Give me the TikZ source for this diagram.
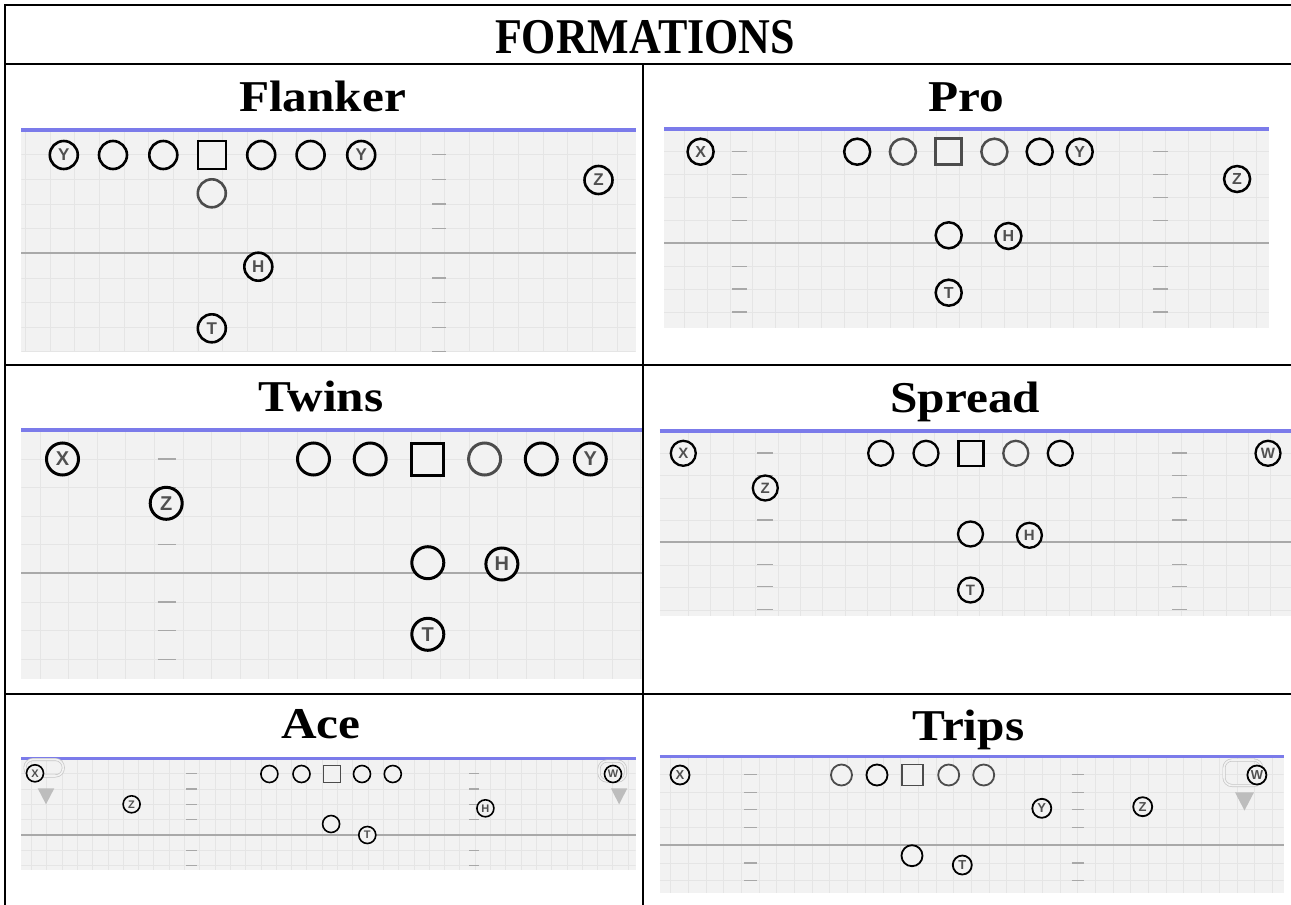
\documentclass[tikz,border=0pt]{standalone}
\usepackage{fontspec}
\setmainfont{Liberation Serif}
\setsansfont{Liberation Sans}
\usepackage{graphicx}
\definecolor{fieldbg}{HTML}{F2F2F2}
\definecolor{gridc}{HTML}{E5E5E5}
\definecolor{losc}{HTML}{A9A9A9}
\definecolor{hashc}{HTML}{A8A8A8}
\definecolor{fieldblue}{HTML}{7B7BEA}
\definecolor{lblgray}{HTML}{505050}
\definecolor{pillc}{HTML}{C6C6C6}
\definecolor{trig}{HTML}{BDBDBD}

\tikzset{
  tbl/.style={line width=2pt, black},
  ttl/.style={font=\bfseries\fontsize{44}{44}\selectfont, anchor=base, inner sep=0pt},
  bigttl/.style={font=\bfseries\fontsize{50}{50}\selectfont, anchor=base, inner sep=0pt},
  gridln/.style={gridc, line width=0.8pt},
  losln/.style={losc, line width=2.2pt},
  blueln/.style={fieldblue, line width=3.8pt},
  hashln/.style={hashc, line width=1.2pt},
  plr/.style={circle, draw=black, fill=fieldbg, inner sep=0pt, text=lblgray},
  ctr/.style={rectangle, draw=black, fill=fieldbg, inner sep=0pt},
  gry/.style={draw=black!70},
  pill/.style={draw=pillc, line width=0.7pt, double=fieldbg, double distance=1.6pt, rounded corners=8pt},
  tri/.style={fill=trig},
  panelsz/.style n args={3}{
    plr/.append style={minimum size=#1, line width=#2, font=\sffamily\bfseries\fontsize{#3}{#3}\selectfont},
    ctr/.append style={minimum size=#1, line width=#2}}
}

% field: x0, y0, x1, y1, grid x, grid y, grid step, scrimmage y
\newcommand{\drawfield}[8]{%
  \fill[fieldbg] (#1,#2) rectangle (#3,#4);
  \begin{scope}
    \clip (#1,#2) rectangle (#3,#4);
    \foreach \k in {0,...,45} {
      \draw[gridln] ({#5+\k*#7},#2) -- ({#5+\k*#7},#4);
      \draw[gridln] (#1,{#6+\k*#7}) -- (#3,{#6+\k*#7});
    }
  \end{scope}
  \draw[losln] (#1,#8) -- (#3,#8);
  \draw[blueln] (#1,#2) -- (#3,#2);
}
% hash column: x left, x right, y0, step, list of rows
\newcommand{\hashcol}[5]{%
  \foreach \k in {#5} \draw[hashln] (#1,{#3+\k*#4}) -- (#2,{#3+\k*#4});
}

\begin{document}
\begin{tikzpicture}[x=1pt, y=-1pt]
  \useasboundingbox (0,0) rectangle (1291,905);
  \fill[white] (0,0) rectangle (1291,905);

  % Flanker
  \drawfield{21.4}{130}{635.5}{351.7}{25.5}{130}{24.65}{253.3}
  \hashcol{432}{446}{130}{24.65}{1,2,3,4,6,7,8,9}
  \begin{scope}[panelsz={28pt}{2.6pt}{17}]
    \node[plr] (fl-y1) at (63.8,155) {Y};
    \node[plr] (fl-lt) at (113,155) {};
    \node[plr] (fl-lg) at (163.3,155) {};
    \node[ctr] (fl-c) at (212,155) {};
    \node[plr] (fl-rg) at (261.2,155) {};
    \node[plr] (fl-rt) at (310.6,155) {};
    \node[plr] (fl-y2) at (361.2,155) {Y};
    \node[plr, gry] (fl-qb) at (211.8,193.3) {};
    \node[plr] (fl-z) at (598.5,180) {Z};
    \node[plr] (fl-h) at (258.3,266.7) {H};
    \node[plr] (fl-t) at (211.8,328.3) {T};
  \end{scope}

  % Pro
  \drawfield{664}{128.7}{1269.2}{327.7}{684.1}{128.7}{22.9}{243.3}
  \hashcol{731.5}{746.8}{128.7}{22.9}{1,2,3,4,6,7,8}
  \hashcol{1153}{1168}{128.7}{22.9}{1,2,3,4,6,7,8}
  \begin{scope}[panelsz={26pt}{2.5pt}{16}]
    \node[plr] (pr-x) at (700.6,151.7) {X};
    \node[plr] (pr-lt) at (857.2,151.7) {};
    \node[plr, gry] (pr-lg) at (902.9,151.7) {};
    \node[ctr, gry] (pr-c) at (948.7,151.7) {};
    \node[plr, gry] (pr-rg) at (994.4,151.7) {};
    \node[plr] (pr-rt) at (1039.7,151.7) {};
    \node[plr] (pr-y) at (1079.7,151.7) {Y};
    \node[plr] (pr-z) at (1237.1,179) {Z};
    \node[plr] (pr-qb) at (948.7,235.3) {};
    \node[plr] (pr-h) at (1008.4,236) {H};
    \node[plr] (pr-t) at (948.7,292.7) {T};
  \end{scope}

  % Twins
  \drawfield{21.4}{430.3}{642}{679.3}{39.9}{430.3}{28.6}{573.3}
  \hashcol{157.5}{175.6}{430.3}{28.6}{1,2,3,4,6,7,8}
  \begin{scope}[panelsz={32pt}{3pt}{20}]
    \node[plr] (tw-x) at (62.5,459) {X};
    \node[plr] (tw-lt) at (313.5,459) {};
    \node[plr] (tw-lg) at (370.2,459) {};
    \node[ctr] (tw-c) at (427.8,459) {};
    \node[plr, gry] (tw-rg) at (484.6,459) {};
    \node[plr] (tw-rt) at (541.3,459) {};
    \node[plr] (tw-y) at (590.3,459) {Y};
    \node[plr] (tw-z) at (166.2,503.3) {Z};
    \node[plr] (tw-qb) at (427.8,562.7) {};
    \node[plr] (tw-h) at (501.9,564) {H};
    \node[plr] (tw-t) at (427.8,634.3) {T};
  \end{scope}

  % Spread
  \drawfield{659.8}{430.7}{1291}{615.7}{688.3}{430.7}{22.4}{542.3}
  \hashcol{757}{772.7}{430.7}{22.3}{1,2,3,4,6,7,8}
  \hashcol{1172.4}{1187.2}{430.7}{22.3}{1,2,3,4,6,7,8}
  \begin{scope}[panelsz={25pt}{2.3pt}{15}]
    \node[plr] (sp-x) at (683.3,453.3) {X};
    \node[plr] (sp-lt) at (880.7,453.3) {};
    \node[plr] (sp-lg) at (926,453.3) {};
    \node[ctr] (sp-c) at (970.9,453.3) {};
    \node[plr, gry] (sp-rg) at (1015.8,453.3) {};
    \node[plr] (sp-rt) at (1060.3,453.3) {};
    \node[plr] (sp-w) at (1268,453.3) {W};
    \node[plr] (sp-z) at (765.3,488) {Z};
    \node[plr] (sp-qb) at (970.5,534) {};
    \node[plr] (sp-h) at (1029.4,535.3) {H};
    \node[plr] (sp-t) at (970.5,590) {T};
  \end{scope}

  % Ace
  \begin{scope}[blueln/.append style={line width=3pt}]
    \drawfield{21.4}{758.3}{635.5}{870}{31.4}{758.3}{15.3}{834.7}
    \hashcol{186}{196.6}{758.3}{15.3}{1,2,3,4,6,7}
    \hashcol{469}{479}{758.3}{15.3}{1,2,3,4,6,7}
  \end{scope}
  \draw[pill] (25,759.5) rectangle (63.3,776);
  \draw[pill] (599,761) rectangle (625.5,781);
  \fill[tri] (37.7,788.3) -- (54.3,788.3) -- (46,804.3) -- cycle;
  \fill[tri] (610.9,788.3) -- (627.3,788.3) -- (619.1,804.3) -- cycle;
  \begin{scope}[panelsz={17pt}{1.6pt}{11}]
    \node[plr] (ac-x) at (35,773.3) {X};
    \node[plr] (ac-lt) at (269.4,774) {};
    \node[plr] (ac-lg) at (301.5,774) {};
    \node[ctr, gry] (ac-c) at (331.8,774) {};
    \node[plr] (ac-rg) at (362,774) {};
    \node[plr] (ac-rt) at (392.8,774) {};
    \node[plr] (ac-w) at (613,774) {W};
    \node[plr] (ac-z) at (131.6,804.3) {Z};
    \node[plr] (ac-h) at (485.4,808.3) {H};
    \node[plr] (ac-qb) at (331.1,824) {};
    \node[plr] (ac-t) at (367.3,835) {T};
  \end{scope}

  % Trips
  \begin{scope}[blueln/.append style={line width=3pt}]
    \drawfield{659.8}{756.7}{1283.7}{893.3}{670.5}{756.7}{17.7}{845.3}
    \hashcol{743.9}{757}{756.7}{17.7}{1,2,3,4,6,7}
    \hashcol{1071.5}{1083.8}{756.7}{17.7}{1,2,3,4,6,7}
  \end{scope}
  \draw[pill] (1224,760) rectangle (1261.7,785.5);
  \fill[tri] (1235,792.3) -- (1254,792.3) -- (1244.5,810.5) -- cycle;
  \begin{scope}[panelsz={21pt}{1.8pt}{13}]
    \node[plr, minimum size=19pt] (tr-x) at (680,775) {X};
    \node[plr, gry] (tr-lt) at (841.5,775) {};
    \node[plr] (tr-lg) at (877,775) {};
    \node[ctr, gry] (tr-c) at (912.6,775) {};
    \node[plr, gry] (tr-rg) at (948.7,775) {};
    \node[plr, gry] (tr-rt) at (983.7,775) {};
    \node[plr, minimum size=19pt] (tr-w) at (1256.9,775) {W};
    \node[plr, minimum size=19pt] (tr-y) at (1041.8,808.3) {Y};
    \node[plr, minimum size=19pt] (tr-z) at (1142.7,806.7) {Z};
    \node[plr] (tr-qb) at (912,855.7) {};
    \node[plr, minimum size=19pt] (tr-t) at (962.3,865) {T};
  \end{scope}

  % table rules
  \draw[tbl] (5,5) -- (1291,5);
  \draw[tbl] (5,4) -- (5,905);
  \draw[tbl] (5,64) -- (1291,64);
  \draw[tbl] (643,64) -- (643,905);
  \draw[tbl] (5,365) -- (1291,365);
  \draw[tbl] (5,694) -- (1291,694);

  % titles
  \node[bigttl] (t-main) at (645,53.3) {\scalebox{0.88}[1]{FORMATIONS}};
  \node[ttl] (t-flanker) at (322.5,111.5) {\scalebox{1.12}[1]{Flanker}};
  \node[ttl] (t-pro) at (966,111.7) {\scalebox{1.12}[1]{Pro}};
  \node[ttl] (t-twins) at (320.8,411.7) {\scalebox{1.12}[1]{Twins}};
  \node[ttl] (t-spread) at (965.2,412) {\scalebox{1.12}[1]{Spread}};
  \node[ttl] (t-ace) at (320.9,738.3) {\scalebox{1.12}[1]{Ace}};
  \node[ttl] (t-trips) at (968.5,740) {\scalebox{1.12}[1]{Trips}};
\end{tikzpicture}
\end{document}
